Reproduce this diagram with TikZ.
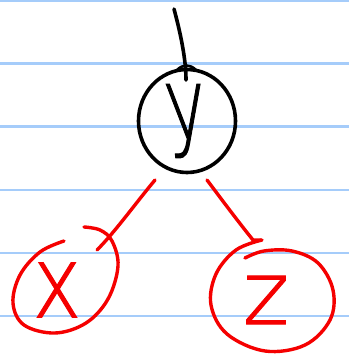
\documentclass[tikz,border=0pt]{standalone}
\usepackage{fontspec}
\usetikzlibrary{shapes.geometric}
\newfontfamily\hand{DejaVu Sans ExtraLight}[FakeBold=1.2]
\definecolor{ruleblue}{RGB}{165,204,250}
\definecolor{redink}{RGB}{245,0,0}
\begin{document}
\begin{tikzpicture}[x=1pt,y=-1pt,
  ruled/.style={draw=ruleblue,line width=2.5pt},
  blackink/.style={draw=black,line width=3.6pt,line cap=round,line join=round},
  redstroke/.style={draw=redink,line width=3.4pt,line cap=round,line join=round},
  letter/.style={inner sep=0pt,font=\hand\fontsize{100pt}{100pt}\selectfont}]
\useasboundingbox (0,0) rectangle (349,359);
\fill[white] (0,0) rectangle (349,359);
\foreach \yy in {1,63.5,126.5,190,253,316}
  \draw[ruled] (0,\yy) -- (349,\yy);
% y node
\node[ellipse,blackink,minimum width=97pt,minimum height=103pt,inner sep=0pt] (ycirc) at (187,121) {};
\node[letter,xscale=0.7,xslant=-0.15,text=black] (y) at (ycirc.center) {y};
\coordinate (top) at (174,9);
\coordinate (ytip) at (186,80);
\draw[blackink] (top) .. controls (181,35) and (186,60) .. (ytip);
\draw[blackink,line width=2.6pt] (177,70) .. controls (183,64) and (190,64) .. (196,70);
% x node
\coordinate (xc) at (57,290);
\draw[redstroke] plot[smooth,tension=0.6] coordinates {(64,241) (40,252) (20,275) (13,303) (24,325) (55,333) (86,323) (108,299) (118,266) (112,241) (100,230) (84,227)};
\node[letter,xscale=0.82,text=redink] (x) at (xc) {x};
% z node
\coordinate (zc) at (266,300);
\draw[redstroke] plot[smooth,tension=0.6] coordinates {(262,240) (236,250) (216,274) (211,305) (227,334) (265,351) (305,345) (330,320) (333,290) (318,263) (292,251) (264,251) (245,258)};
\node[letter,font=\hand\fontsize{88pt}{88pt}\selectfont,text=redink] (z) at (zc) {z};
% connectors
\coordinate (yl) at (155,180);
\coordinate (xe) at (97,250);
\coordinate (yr) at (207,180);
\coordinate (ze) at (253,240);
\coordinate (zh) at (261,240);
\draw[redstroke] (yl) .. controls (135,204) and (115,232) .. (xe);
\draw[redstroke] (yr) .. controls (222,200) and (240,224) .. (ze) -- (zh);
\end{tikzpicture}
\end{document}
